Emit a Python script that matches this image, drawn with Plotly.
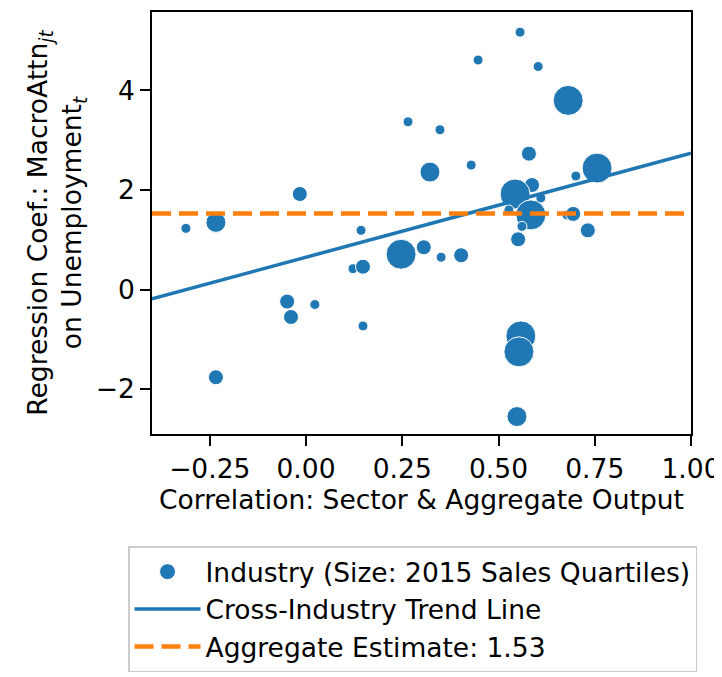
import plotly.graph_objects as go

# Industry-level data
corr = [-0.312, -0.234, -0.234, -0.016, -0.049, -0.039, 0.023, 0.148, 0.122, 0.148,
        0.143, 0.247, 0.306, 0.351, 0.403, 0.265, 0.322, 0.348, 0.429, 0.447,
        0.556, 0.603, 0.681, 0.579, 0.587, 0.543, 0.610, 0.701, 0.756, 0.584,
        0.527, 0.561, 0.551, 0.678, 0.694, 0.732, 0.558, 0.553, 0.548]
coef = [1.23, 1.35, -1.76, 1.92, -0.24, -0.55, -0.30, -0.73, 0.42, 0.46,
        1.19, 0.71, 0.85, 0.65, 0.69, 3.37, 2.36, 3.21, 2.50, 4.61,
        5.17, 4.48, 3.80, 2.73, 2.10, 1.92, 1.84, 2.28, 2.44, 1.50,
        1.60, 1.27, 1.01, 1.50, 1.52, 1.19, -0.93, -1.25, -2.55]
sales_quartile = [1, 3, 2, 2, 2, 2, 1, 1, 1, 2,
                  1, 4, 2, 1, 2, 1, 3, 1, 1, 1,
                  1, 1, 4, 2, 2, 4, 1, 1, 4, 4,
                  1, 1, 2, 1, 2, 2, 4, 4, 3]

trend_slope = 2.09
trend_intercept = 0.65
aggregate_estimate = 1.53

x_limits = [-0.4, 1.0]
y_limits = [-2.90, 5.575]
x_ticks = [-0.25, 0.0, 0.25, 0.5, 0.75, 1.0]
x_tick_labels = ["\u22120.25", "0.00", "0.25", "0.50", "0.75", "1.00"]
y_ticks = [-2, 0, 2, 4]
y_tick_labels = ["\u22122", "0", "2", "4"]

size_map = {1: 10, 2: 15, 3: 20, 4: 30}
marker_sizes = [size_map[q] for q in sales_quartile]

BLUE = "#1f77b4"
ORANGE = "#ff7f0e"
FONT = "DejaVu Sans"
FS = 26.5

fig = go.Figure()

fig.add_trace(go.Scatter(
    x=corr, y=coef, mode="markers",
    name="Industry (Size: 2015 Sales Quartiles)",
    marker=dict(color=BLUE, size=marker_sizes, opacity=1,
                line=dict(color="white", width=1)),
))

trend_x = x_limits
trend_y = [trend_intercept + trend_slope * v for v in trend_x]
fig.add_trace(go.Scatter(
    x=trend_x, y=trend_y, mode="lines",
    name="Cross-Industry Trend Line",
    line=dict(color=BLUE, width=3.5),
))

fig.add_trace(go.Scatter(
    x=x_limits, y=[aggregate_estimate] * 2, mode="lines",
    name=f"Aggregate Estimate: {aggregate_estimate:.2f}",
    line=dict(color=ORANGE, width=4.5, dash="19px,8px"),
))

axis_common = dict(
    showline=True, linecolor="black", linewidth=1.8, mirror=True,
    ticks="outside", ticklen=10, tickwidth=1.8, tickcolor="black",
    showgrid=False, zeroline=False, automargin=False,
    tickfont=dict(family=FONT, size=FS, color="black"),
)

fig.update_xaxes(
    range=x_limits, tickvals=x_ticks, ticktext=x_tick_labels,
    title=dict(text="Correlation: Sector & Aggregate Output",
               font=dict(family=FONT, size=FS, color="black"), standoff=8),
    **axis_common,
)
fig.update_yaxes(
    range=y_limits, tickvals=y_ticks, ticktext=y_tick_labels,
    title=dict(text="Regression Coef.: MacroAttn<sub><i>jt</i></sub><br>on Unemployment<sub><i>t</i></sub>",
               font=dict(family=FONT, size=FS, color="black"), standoff=6),
    **axis_common,
)

# page body has a default margin, so the figure is a little smaller and offset
fig.update_layout(
    width=714, height=669,
    margin=dict(l=144, r=31, t=4, b=237),
    plot_bgcolor="white", paper_bgcolor="white",
    font=dict(family=FONT, size=FS, color="black"),
    legend=dict(
        x=-0.0445, y=-0.2664, xanchor="left", yanchor="top",
        bgcolor="white", bordercolor="#cccccc", borderwidth=1.5,
        font=dict(family=FONT, size=FS, color="black"),
        itemsizing="trace", itemwidth=66, tracegroupgap=0,
    ),
)

fig.write_html("out.html")
